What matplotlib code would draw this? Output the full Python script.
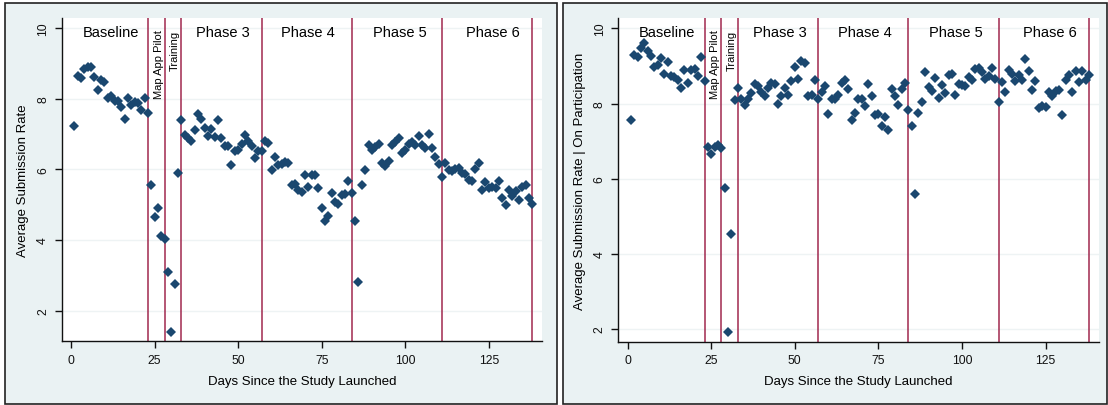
import matplotlib
matplotlib.use('Agg')
import matplotlib.pyplot as plt
from matplotlib.patches import Rectangle

plt.rcParams['font.family'] = ['Liberation Sans', 'DejaVu Sans']

# day index of each daily average
days = list(range(1, 139))

# panel 1: average submission rate
rate = [7.22, 8.64, 8.58, 8.83, 8.89, 8.89, 8.63, 8.26, 8.54, 8.47,
        8.02, 8.09, 7.93, 7.93, 7.78, 7.43, 8.02, 7.83, 7.92, 7.87,
        7.67, 8.02, 7.60, 5.57, 4.66, 4.90, 4.12, 4.03, 3.10, 1.40,
        2.74, 5.90, 7.40, 6.98, 6.88, 6.81, 7.11, 7.58, 7.43, 7.16,
        6.95, 7.15, 6.93, 7.41, 6.88, 6.67, 6.67, 6.13, 6.53, 6.55,
        6.72, 6.98, 6.79, 6.67, 6.31, 6.53, 6.53, 6.81, 6.75, 5.99,
        6.34, 6.13, 6.14, 6.22, 6.18, 5.56, 5.59, 5.42, 5.35, 5.85,
        5.49, 5.83, 5.83, 5.47, 4.90, 4.55, 4.69, 5.33, 5.09, 5.03,
        5.28, 5.31, 5.68, 5.34, 4.55, 2.80, 5.57, 5.99, 6.70, 6.56,
        6.63, 6.71, 6.19, 6.11, 6.25, 6.68, 6.77, 6.88, 6.47, 6.56,
        6.72, 6.77, 6.70, 6.94, 6.70, 6.61, 7.00, 6.61, 6.36, 6.14,
        5.78, 6.18, 5.97, 5.95, 6.02, 6.03, 5.89, 5.87, 5.70, 5.67,
        6.00, 6.19, 5.43, 5.64, 5.48, 5.50, 5.48, 5.66, 5.19, 5.00,
        5.43, 5.26, 5.40, 5.14, 5.50, 5.57, 5.19, 5.02]

# panel 2: average submission rate conditional on participation
rate_part = [7.56, 9.29, 9.23, 9.47, 9.61, 9.41, 9.27, 8.98, 9.02, 9.20,
             8.78, 9.10, 8.74, 8.70, 8.62, 8.41, 8.90, 8.54, 8.89, 8.92,
             8.74, 9.25, 8.61, 6.85, 6.67, 6.85, 6.90, 6.82, 5.76, 1.93,
             4.53, 8.09, 8.41, 8.11, 7.96, 8.12, 8.28, 8.52, 8.47, 8.32,
             8.19, 8.41, 8.55, 8.52, 8.00, 8.20, 8.41, 8.22, 8.61, 8.97,
             8.66, 9.14, 9.08, 8.21, 8.24, 8.63, 8.11, 8.30, 8.47, 7.73,
             8.11, 8.11, 8.22, 8.54, 8.62, 8.39, 7.56, 7.75, 8.11, 8.12,
             7.94, 8.52, 8.19, 7.69, 7.72, 7.39, 7.63, 7.30, 8.39, 8.21,
             7.96, 8.39, 8.56, 7.83, 7.39, 5.59, 7.75, 8.03, 8.85, 8.43,
             8.34, 8.67, 8.16, 8.49, 8.28, 8.76, 8.78, 8.23, 8.52, 8.49,
             8.46, 8.70, 8.63, 8.92, 8.96, 8.85, 8.65, 8.74, 8.94, 8.65,
             8.05, 8.58, 8.30, 8.89, 8.78, 8.61, 8.76, 8.63, 9.18, 8.86,
             8.36, 8.61, 7.88, 7.94, 7.92, 8.30, 8.21, 8.34, 8.37, 7.69,
             8.63, 8.76, 8.30, 8.86, 8.58, 8.87, 8.63, 8.76]

phase_breaks = [23, 28, 33, 57, 84, 111, 138]
phase_names = ['Baseline', 'Phase 3', 'Phase 4', 'Phase 5', 'Phase 6']
phase_centers = [11.8, 45.5, 71, 98.3, 126.3]
small_names = ['Map App Pilot', 'Training']
small_centers = [26.2, 31.1]

BG = '#EAF2F3'
NAVY = '#1A476F'
LINE = '#A0284E'

W, H = 1108, 406
fig = plt.figure(figsize=(W / 100, H / 100), dpi=100)
fig.patch.set_facecolor('white')

# outer frames of the two graphs (pixels: x0, x1)
for x0, x1 in [(5, 557), (563, 1107)]:
    fig.add_artist(Rectangle((x0 / W, 1 - 405 / H), (x1 - x0) / W, 401 / H,
                             transform=fig.transFigure, facecolor=BG,
                             edgecolor='#222222', linewidth=1.2, zorder=0))


def panel(rect, values, ylim, ylabel):
    ax = fig.add_axes(rect)
    ax.set_facecolor('white')
    ax.set_zorder(1)
    ax.plot(days, values, linestyle='none', marker='D', markersize=4.6,
            color=NAVY, markeredgewidth=0, zorder=3)
    for b in phase_breaks:
        ax.axvline(b, color=LINE, linewidth=1.1, zorder=2)
    ax.set_xlim(-2.8, 141)
    ax.set_ylim(*ylim)
    ax.set_xticks([0, 25, 50, 75, 100, 125])
    ax.set_yticks([2, 4, 6, 8, 10])
    ax.yaxis.grid(True, color='#EEF3F4', linewidth=1)
    ax.set_axisbelow(True)
    for s in ['top', 'right']:
        ax.spines[s].set_visible(False)
    for s in ['left', 'bottom']:
        ax.spines[s].set_linewidth(1)
        ax.spines[s].set_color('#111111')
    ax.tick_params(axis='both', direction='out', length=4.8, width=1,
                   labelsize=8.8, colors='#111111', pad=4.3)
    for lab in ax.get_yticklabels():
        lab.set_rotation(90)
        lab.set_va('center')
    ax.set_xlabel('Days Since the Study Launched', fontsize=9.5)
    ax.xaxis.set_label_coords(0.5, -0.104)
    ax.set_ylabel(ylabel, fontsize=9.5)
    ax.yaxis.set_label_coords(-0.067, 0.5)
    for name, c in zip(phase_names, phase_centers):
        ax.text(c, 0.957, name, transform=ax.get_xaxis_transform(),
                ha='center', va='center', fontsize=10.5)
    for name, c in zip(small_names, small_centers):
        ax.text(c, 0.965, name, transform=ax.get_xaxis_transform(),
                ha='center', va='top', rotation=90, fontsize=8)
    return ax


panel([61.7 / W, 1 - 342.3 / H, 480.6 / W, 323 / H], rate, (1.13, 10.28),
      'Average Submission Rate')
panel([618.3 / W, 1 - 342.7 / H, 480.7 / W, 323.4 / H], rate_part, (1.66, 10.27),
      'Average Submission Rate | On Participation')

fig.savefig('out.png', dpi=100)
